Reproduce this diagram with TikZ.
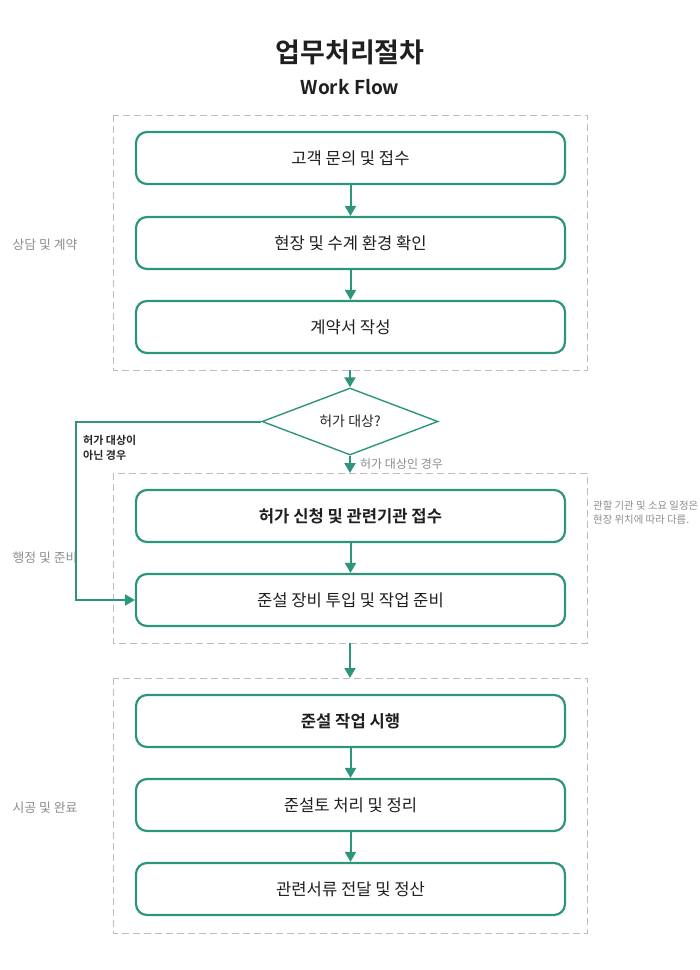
\documentclass[tikz,border=0pt]{standalone}
\usepackage{fontspec}
\setmainfont{Noto Sans CJK KR}[BoldFont={Noto Sans CJK KR Bold}]
\usetikzlibrary{arrows.meta,shapes.geometric}
\definecolor{flowgreen}{HTML}{2C957C}
\definecolor{labelgray}{HTML}{8C8C8C}
\definecolor{dashgray}{HTML}{BDBDBD}
\tikzset{
  stepbox/.style={draw=flowgreen, line width=2.2pt, rounded corners=11pt, minimum width=429pt, minimum height=52pt, inner sep=0pt, font=\fontsize{16.6}{19}\selectfont, text=black!88},
  groupbox/.style={draw=dashgray, line width=1pt, dash pattern=on 7pt off 4pt},
  flow/.style={draw=flowgreen, line width=2pt, -{Triangle[length=10pt,width=11pt]}},
  grouplabel/.style={text=labelgray, font=\fontsize{12.8}{15}\selectfont, anchor=center},
}
\begin{document}
\begin{tikzpicture}[x=1pt,y=-1pt]
\useasboundingbox (0,0) rectangle (700,970);
% title
\node[font=\bfseries\fontsize{27}{32}\selectfont, text=black!88] (title) at (350,52) {업무처리절차};
\node[font=\bfseries\fontsize{19}{23}\selectfont, text=black!88] (subtitle) at (350,87) {Work Flow};
% groups
\draw[groupbox] (113,115) rectangle (587,370);
\draw[groupbox] (113,473) rectangle (587,643);
\draw[groupbox] (113,678) rectangle (587,933);
\coordinate (g1b) at (350,370);
\coordinate (g2t) at (350,473);
\coordinate (g2b) at (350,643);
\coordinate (g3t) at (350,678);
\node[grouplabel] (l1) at (45,245) {상담 및 계약};
\node[grouplabel] (l2) at (45,558) {행정 및 준비};
\node[grouplabel] (l3) at (45,808) {시공 및 완료};
% boxes
\node[stepbox] (b1) at (350.5,158) {고객 문의 및 접수};
\node[stepbox] (b2) at (350.5,243) {현장 및 수계 환경 확인};
\node[stepbox] (b3) at (350.5,327) {계약서 작성};
\node[stepbox, font=\bfseries\fontsize{16.6}{19}\selectfont] (b4) at (350.5,516) {허가 신청 및 관련기관 접수};
\node[stepbox] (b5) at (350.5,600) {준설 장비 투입 및 작업 준비};
\node[stepbox, font=\bfseries\fontsize{16.6}{19}\selectfont] (b6) at (350.5,721) {준설 작업 시행};
\node[stepbox] (b7) at (350.5,805) {준설토 처리 및 정리};
\node[stepbox] (b8) at (350.5,889) {관련서류 전달 및 정산};
% diamond
\node[diamond, draw=flowgreen, line width=1.4pt, minimum width=176pt, minimum height=67pt, inner sep=0pt, aspect=2.6, font=\fontsize{14}{17}\selectfont, text=black!85] (d) at (350,421.5) {허가 대상?};
% arrows
\draw[flow] (b1) -- (b2);
\draw[flow] (b2) -- (b3);
\draw[flow] (g1b) -- (d.north);
\draw[flow] (d.south) -- (g2t);
\draw[flow] (b4) -- (b5);
\draw[flow] (g2b) -- (g3t);
\draw[flow] (b6) -- (b7);
\draw[flow] (b7) -- (b8);
\coordinate (c1) at (76,421.5);
\draw[flow] (d.west) -- (c1) |- (b5.west);
% labels
\node[anchor=north west, align=left, font=\bfseries\fontsize{11}{15.5}\selectfont, text=black!85, inner sep=0pt] (nl) at (83,435) {허가 대상이\\아닌 경우};
\node[anchor=west, font=\fontsize{12}{14}\selectfont, text=labelgray, inner sep=0pt] (yl) at (360,464) {허가 대상인 경우};
\node[anchor=north west, align=left, font=\fontsize{10.4}{14}\selectfont, text=labelgray, inner sep=0pt] (note) at (593,501) {관할 기관 및 소요 일정은\\현장 위치에 따라 다름.};
\end{tikzpicture}
\end{document}
